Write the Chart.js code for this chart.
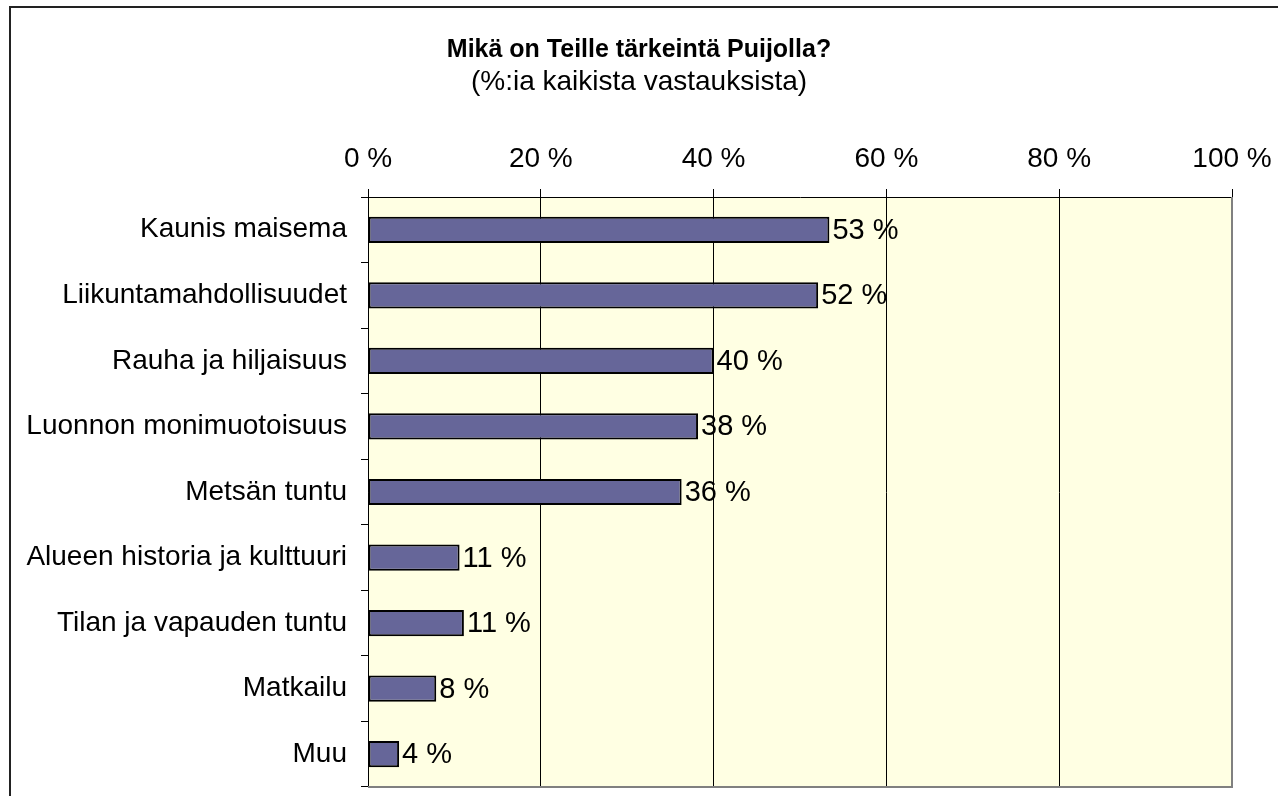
<!DOCTYPE html>
<html lang="fi">
<head>
    <meta charset="UTF-8">
    <title>Mikä on Teille tärkeintä Puijolla?</title>
    <script src="https://cdn.jsdelivr.net/npm/chart.js"></script>
    <style>
        body {
            margin: 0;
            background-color: #ffffff;
        }
        #chart {
            display: block;
        }
    </style>
</head>
<body>
    <canvas id="chart" width="1278" height="796"></canvas>
    <script>
        // Data
        const categories = [
            'Kaunis maisema',
            'Liikuntamahdollisuudet',
            'Rauha ja hiljaisuus',
            'Luonnon monimuotoisuus',
            'Metsän tuntu',
            'Alueen historia ja kulttuuri',
            'Tilan ja vapauden tuntu',
            'Matkailu',
            'Muu'
        ];
        const shares = [53.4, 52.1, 40.0, 38.2, 36.3, 10.6, 11.1, 7.9, 3.6];
        const axisTicks = [0, 20, 40, 60, 80, 100];

        Chart.defaults.font.family = '"Liberation Sans", Arial, sans-serif';
        Chart.defaults.color = '#000';

        // Plot background, outer frame and the grey plot edges
        const framePlugin = {
            id: 'frame',
            beforeDraw(chart) {
                const { ctx, chartArea: a } = chart;
                ctx.save();
                ctx.fillStyle = '#ffffff';
                ctx.fillRect(0, 0, chart.width, chart.height);
                ctx.fillStyle = '#ffffe3';
                ctx.fillRect(a.left, a.top, a.right - a.left, a.bottom - a.top);
                ctx.strokeStyle = '#222';
                ctx.lineWidth = 2;
                ctx.strokeRect(10, 7, chart.width + 40, chart.height + 40);
                ctx.restore();
            },
            beforeDatasetsDraw(chart) {
                const { ctx, chartArea: a } = chart;
                ctx.save();
                ctx.strokeStyle = '#808080';
                ctx.lineWidth = 2;
                ctx.beginPath();
                ctx.moveTo(a.left, a.bottom);
                ctx.lineTo(a.right, a.bottom);
                ctx.lineTo(a.right, a.top);
                ctx.stroke();
                ctx.restore();
            }
        };

        // Value labels at the end of each bar
        const valueLabels = {
            id: 'valueLabels',
            afterDatasetsDraw(chart) {
                const { ctx } = chart;
                const meta = chart.getDatasetMeta(0);
                ctx.save();
                ctx.font = '29px "Liberation Sans", Arial, sans-serif';
                ctx.fillStyle = '#000';
                ctx.textAlign = 'left';
                ctx.textBaseline = 'middle';
                meta.data.forEach((bar, i) => {
                    ctx.fillText(Math.round(shares[i]) + ' %', bar.x + 3, bar.y + 1);
                });
                ctx.restore();
            }
        };

        new Chart(document.getElementById('chart'), {
            type: 'bar',
            data: {
                labels: categories,
                datasets: [{
                    data: shares,
                    backgroundColor: '#666699',
                    borderColor: '#000',
                    borderWidth: 2,
                    borderSkipped: false,
                    barPercentage: 0.4,
                    categoryPercentage: 1
                }]
            },
            options: {
                indexAxis: 'y',
                responsive: false,
                animation: false,
                layout: {
                    padding: { top: 0, left: 0, right: 0, bottom: 9 }
                },
                plugins: {
                    legend: { display: false },
                    tooltip: { enabled: false },
                    title: {
                        display: true,
                        text: 'Mikä on Teille tärkeintä Puijolla?',
                        font: { size: 25, weight: 'bold', lineHeight: 1.1 },
                        color: '#000',
                        padding: { top: 36, bottom: 0 }
                    },
                    subtitle: {
                        display: true,
                        text: '(%:ia kaikista vastauksista)',
                        font: { size: 28 },
                        color: '#000',
                        padding: { top: 2, bottom: 0 }
                    }
                },
                scales: {
                    x: {
                        position: 'top',
                        min: 0,
                        max: 100,
                        afterFit(scale) {
                            scale.height = 97.9;
                            scale.paddingLeft = 0;
                            scale.paddingRight = 46;
                        },
                        afterBuildTicks(scale) {
                            scale.ticks = axisTicks.map(v => ({ value: v }));
                        },
                        ticks: {
                            font: { size: 28 },
                            color: '#000',
                            padding: 13,
                            maxRotation: 0,
                            callback: v => v + ' %'
                        },
                        grid: {
                            color: ctx => (ctx.tick && ctx.tick.value === 100) ? 'rgba(0,0,0,0)' : '#000',
                            tickColor: '#000',
                            lineWidth: 1,
                            tickLength: 8
                        },
                        border: { color: '#000', width: 1 }
                    },
                    y: {
                        afterFit(scale) {
                            scale.width = 368;
                            scale.paddingTop = 0;
                            scale.paddingBottom = 0;
                        },
                        ticks: {
                            font: { size: 28 },
                            color: '#000',
                            padding: 14
                        },
                        grid: {
                            drawOnChartArea: false,
                            color: '#000',
                            tickLength: 7,
                            offset: true
                        },
                        border: { color: '#000', width: 1 }
                    }
                }
            },
            plugins: [framePlugin, valueLabels]
        });
    </script>
</body>
</html>
